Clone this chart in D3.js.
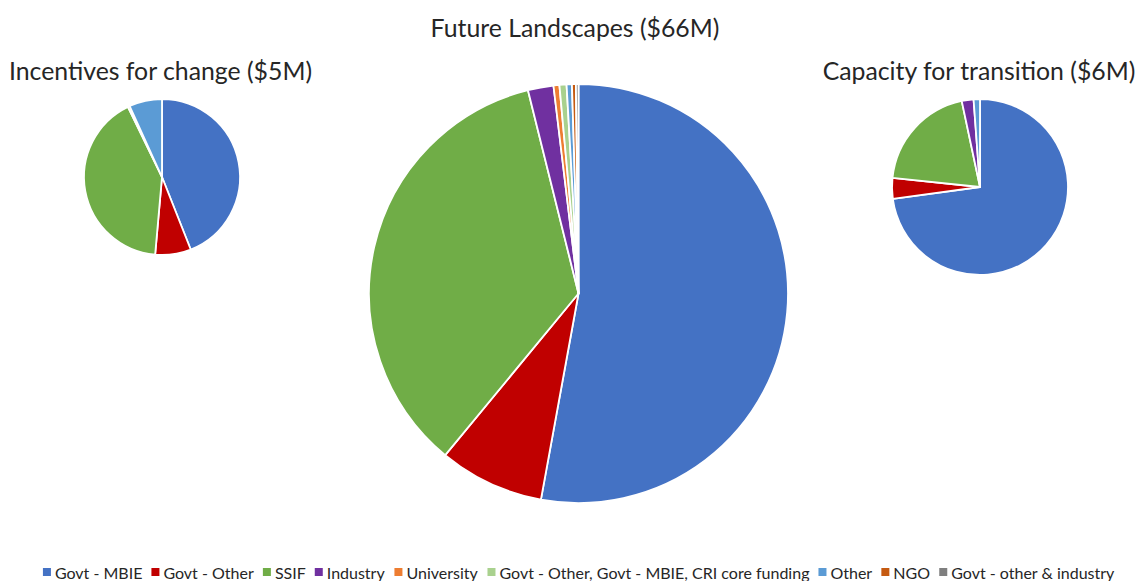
<!DOCTYPE html>
<html>
<head>
<meta charset="utf-8">
<script src="https://cdn.jsdelivr.net/npm/d3@7"></script>
<style>
  html, body { margin: 0; padding: 0; background: #ffffff; }
  svg { display: block; }
  text { font-family: Lato, "Open Sans", "Liberation Sans", sans-serif; fill: #262626; }
</style>
</head>
<body>
<svg id="chart" width="1138" height="581"></svg>
<script>
// Funding sources shared by every programme
const categories = [
  "Govt - MBIE",
  "Govt - Other",
  "SSIF",
  "Industry",
  "University",
  "Govt - Other, Govt - MBIE, CRI core funding",
  "Other",
  "NGO",
  "Govt - other & industry"
];
const colors = ["#4472C4", "#C00000", "#70AD47", "#7030A0", "#ED7D31", "#A9D18E", "#5B9BD5", "#C55A11", "#7F7F7F"];

// Programme titles
const titles = ["Incentives for change ($5M)", "Future Landscapes ($66M)", "Capacity for transition ($6M)"];

// Funding by source, $M
const incentivesValues = [2.20, 0.37, 2.07, 0, 0.02, 0, 0.34, 0, 0];
const landscapesValues = [34.9, 5.35, 23.2, 1.30, 0.30, 0.36, 0.27, 0.20, 0.13];
const capacityValues   = [4.37, 0.23, 1.20, 0.13, 0, 0, 0.07, 0, 0];

const svg = d3.select("#chart");

const pies = [
  { values: incentivesValues, cx: 162, cy: 177, r: 78, title: titles[0], tx: 160.5, ty: 80 },
  { values: landscapesValues, cx: 578.5, cy: 293.5, r: 209.5, title: titles[1], tx: 575, ty: 37 },
  { values: capacityValues, cx: 980, cy: 187, r: 88, title: titles[2], tx: 979, ty: 80 }
];
const titleSize = 24.8;

const color = d3.scaleOrdinal().domain(categories).range(colors);
const pie = d3.pie().sort(null).value(d => d.value);

pies.forEach(p => {
  const rows = categories.map((c, i) => ({ name: c, value: p.values[i] }));
  const arc = d3.arc().innerRadius(0).outerRadius(p.r);
  const g = svg.append("g").attr("transform", `translate(${p.cx},${p.cy})`);
  g.selectAll("path")
    .data(pie(rows).filter(d => d.data.value > 0))
    .join("path")
    .attr("d", arc)
    .attr("fill", d => color(d.data.name))
    .attr("stroke", "#ffffff")
    .attr("stroke-width", 1.8)
    .attr("stroke-linejoin", "round");

  svg.append("text")
    .attr("x", p.tx)
    .attr("y", p.ty)
    .attr("text-anchor", "middle")
    .attr("font-size", titleSize)
    .text(p.title);
});

// Legend along the bottom, centred
const legend = svg.append("g").attr("transform", "translate(0,573)");
const legendFont = 16;
const items = legend.selectAll("g")
  .data(categories)
  .join("g");
items.append("rect")
  .attr("width", 8).attr("height", 8)
  .attr("y", -5)
  .attr("fill", d => color(d));
items.append("text")
  .attr("x", 12)
  .attr("y", 0)
  .attr("dy", "0.35em")
  .attr("font-size", legendFont)
  .attr("fill", "#404040")
  .text(d => d);

let widths = [];
items.each(function() { widths.push(this.getBBox().width); });
const gap = 9;
const total = d3.sum(widths) + gap * (widths.length - 1);
let x = 579 - total / 2;
items.attr("transform", (d, i) => {
  const t = `translate(${x},0)`;
  x += widths[i] + gap;
  return t;
});
</script>
</body>
</html>
